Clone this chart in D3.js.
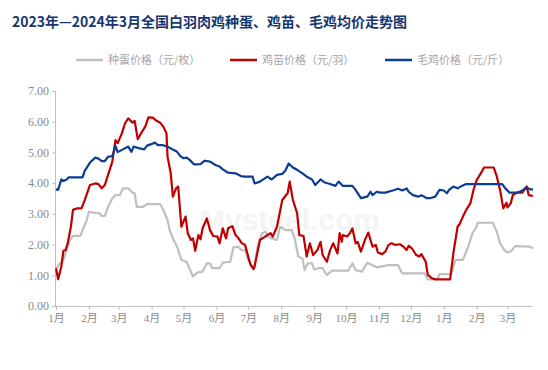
<!DOCTYPE html>
<html>
<head>
<meta charset="utf-8">
<script src="https://cdn.jsdelivr.net/npm/d3@7"></script>
<style>
  body { margin: 0; background: #fff; }
  svg { display: block; }
</style>
</head>
<body>
<div id="chart"></div>
<script>
//Chart data
var titleText = "2023年—2024年3月全国白羽肉鸡种蛋、鸡苗、毛鸡均价走势图";
var seriesNames = ["种蛋价格（元/枚）", "鸡苗价格（元/羽）", "毛鸡价格（元/斤）"];
var seriesColors = ["#bfbfbf", "#c00000", "#0b3d91"];
var yTicks = [0, 1, 2, 3, 4, 5, 6, 7];
var monthTicks = ["2023-01-01", "2023-02-01", "2023-03-01", "2023-04-01", "2023-05-01", "2023-06-01",
    "2023-07-01", "2023-08-01", "2023-09-01", "2023-10-01", "2023-11-01", "2023-12-01",
    "2024-01-01", "2024-02-01", "2024-03-01"];
var monthLabels = ["1月", "2月", "3月", "4月", "5月", "6月", "7月", "8月", "9月", "10月", "11月", "12月", "1月", "2月", "3月"];

//种蛋
var eggPrice = [
    ["2023-01-01", 1.2], ["2023-01-04", 1.35], ["2023-01-08", 1.5], ["2023-01-11", 1.82], ["2023-01-14", 2.15],
    ["2023-01-17", 2.28], ["2023-01-24", 2.28], ["2023-01-26", 2.47], ["2023-01-30", 2.8], ["2023-02-01", 3.07],
    ["2023-02-05", 3.04], ["2023-02-11", 3.02], ["2023-02-13", 2.93], ["2023-02-16", 2.93], ["2023-02-19", 3.23],
    ["2023-02-23", 3.51], ["2023-02-26", 3.61], ["2023-03-02", 3.61], ["2023-03-05", 3.83], ["2023-03-10", 3.83],
    ["2023-03-14", 3.69], ["2023-03-16", 3.67], ["2023-03-18", 3.23], ["2023-03-24", 3.23], ["2023-03-28", 3.32],
    ["2023-04-09", 3.32], ["2023-04-12", 3.13], ["2023-04-16", 2.8], ["2023-04-18", 2.47], ["2023-04-21", 2.2],
    ["2023-04-25", 1.93], ["2023-04-29", 1.5], ["2023-05-04", 1.44], ["2023-05-07", 1.19], ["2023-05-10", 0.96],
    ["2023-05-14", 1.09], ["2023-05-19", 1.12], ["2023-05-23", 1.39], ["2023-05-26", 1.39], ["2023-05-28", 1.23],
    ["2023-06-04", 1.23], ["2023-06-07", 1.41], ["2023-06-14", 1.44], ["2023-06-17", 1.91], ["2023-06-21", 1.93],
    ["2023-06-25", 1.82], ["2023-06-28", 1.82], ["2023-07-01", 1.5], ["2023-07-05", 1.28], ["2023-07-07", 1.33],
    ["2023-07-10", 1.99], ["2023-07-14", 2.37], ["2023-07-17", 2.42], ["2023-07-20", 2.26], ["2023-07-23", 2.2],
    ["2023-07-28", 2.15], ["2023-07-31", 2.58], ["2023-08-05", 2.47], ["2023-08-11", 2.47], ["2023-08-14", 2.15],
    ["2023-08-17", 1.61], ["2023-08-21", 1.55], ["2023-08-23", 1.17], ["2023-08-26", 1.39], ["2023-08-30", 1.39],
    ["2023-09-01", 1.19], ["2023-09-05", 1.23], ["2023-09-09", 1.23], ["2023-09-13", 1.01], ["2023-09-18", 1.15],
    ["2023-10-03", 1.15], ["2023-10-07", 1.39], ["2023-10-10", 1.17], ["2023-10-16", 1.12], ["2023-10-21", 1.41],
    ["2023-10-26", 1.33], ["2023-10-30", 1.26], ["2023-11-10", 1.33], ["2023-11-19", 1.33], ["2023-11-23", 1.06],
    ["2023-12-14", 1.06], ["2023-12-17", 0.87], ["2023-12-26", 0.87], ["2023-12-28", 1.04], ["2024-01-08", 1.04],
    ["2024-01-12", 1.5], ["2024-01-19", 1.5], ["2024-01-24", 1.93], ["2024-01-28", 2.37], ["2024-01-31", 2.53],
    ["2024-02-02", 2.71], ["2024-02-16", 2.71], ["2024-02-20", 2.42], ["2024-02-23", 2.04], ["2024-02-27", 1.82],
    ["2024-03-01", 1.74], ["2024-03-05", 1.8], ["2024-03-08", 1.95], ["2024-03-22", 1.93], ["2024-03-25", 1.88]
];

//鸡苗
var chickPrice = [
    ["2023-01-01", 1.23], ["2023-01-03", 0.87], ["2023-01-06", 1.28], ["2023-01-08", 1.8], ["2023-01-10", 1.82],
    ["2023-01-12", 2.04], ["2023-01-15", 2.58], ["2023-01-17", 3.13], ["2023-01-21", 3.18], ["2023-01-25", 3.18],
    ["2023-01-28", 3.45], ["2023-02-02", 3.94], ["2023-02-07", 3.99], ["2023-02-10", 3.97], ["2023-02-13", 3.83],
    ["2023-02-16", 3.94], ["2023-02-19", 4.27], ["2023-02-23", 4.7], ["2023-02-26", 5.4], ["2023-02-28", 5.3],
    ["2023-03-04", 5.62], ["2023-03-07", 5.95], ["2023-03-10", 6.11], ["2023-03-14", 5.97], ["2023-03-16", 6.03],
    ["2023-03-19", 5.43], ["2023-03-23", 5.68], ["2023-03-26", 5.84], ["2023-03-29", 6.14], ["2023-04-02", 6.13],
    ["2023-04-06", 6.02], ["2023-04-09", 5.97], ["2023-04-12", 5.84], ["2023-04-15", 5.62], ["2023-04-16", 4.86],
    ["2023-04-19", 4.32], ["2023-04-21", 3.56], ["2023-04-24", 3.83], ["2023-04-26", 3.89], ["2023-04-29", 2.58],
    ["2023-05-01", 2.75], ["2023-05-03", 2.91], ["2023-05-05", 2.37], ["2023-05-08", 2.15], ["2023-05-10", 2.2],
    ["2023-05-12", 1.8], ["2023-05-15", 2.31], ["2023-05-17", 2.17], ["2023-05-19", 2.53], ["2023-05-23", 2.85],
    ["2023-05-26", 2.47], ["2023-05-29", 2.28], ["2023-06-02", 2.26], ["2023-06-04", 2.04], ["2023-06-07", 2.53],
    ["2023-06-10", 2.2], ["2023-06-12", 2.53], ["2023-06-16", 2.6], ["2023-06-19", 2.31], ["2023-06-21", 2.24],
    ["2023-06-25", 2.04], ["2023-06-28", 1.99], ["2023-07-01", 1.6], ["2023-07-03", 1.35], ["2023-07-06", 1.2],
    ["2023-07-07", 1.3], ["2023-07-12", 2.15], ["2023-07-19", 2.31], ["2023-07-22", 2.37], ["2023-07-24", 2.26],
    ["2023-07-28", 2.58], ["2023-08-02", 3.45], ["2023-08-07", 3.67], ["2023-08-09", 4.05], ["2023-08-12", 3.45],
    ["2023-08-16", 3.02], ["2023-08-18", 2.31], ["2023-08-22", 2.28], ["2023-08-25", 1.61], ["2023-08-28", 2.04],
    ["2023-08-31", 1.66], ["2023-09-04", 1.82], ["2023-09-07", 2.09], ["2023-09-09", 1.66], ["2023-09-13", 1.44],
    ["2023-09-16", 1.82], ["2023-09-19", 2.04], ["2023-09-23", 1.71], ["2023-09-25", 2.37], ["2023-09-27", 2.09],
    ["2023-09-28", 2.31], ["2023-10-02", 2.26], ["2023-10-05", 2.39], ["2023-10-07", 2.53], ["2023-10-10", 2.04],
    ["2023-10-12", 2.09], ["2023-10-15", 1.77], ["2023-10-19", 2.17], ["2023-10-22", 2.39], ["2023-10-25", 2.04],
    ["2023-10-26", 1.93], ["2023-10-29", 1.99], ["2023-10-31", 1.74], ["2023-11-04", 1.69], ["2023-11-07", 1.77],
    ["2023-11-10", 1.99], ["2023-11-13", 2.04], ["2023-11-16", 1.99], ["2023-11-21", 2.01], ["2023-11-24", 1.93],
    ["2023-11-27", 1.82], ["2023-11-29", 1.96], ["2023-12-02", 1.88], ["2023-12-06", 1.66], ["2023-12-09", 1.61],
    ["2023-12-11", 1.69], ["2023-12-15", 1.44], ["2023-12-17", 1.01], ["2023-12-21", 0.9], ["2023-12-24", 0.87],
    ["2024-01-07", 0.87], ["2024-01-10", 1.71], ["2024-01-14", 2.58], ["2024-01-16", 2.67], ["2024-01-19", 2.91],
    ["2024-01-23", 3.18], ["2024-01-26", 3.34], ["2024-01-29", 3.78], ["2024-02-01", 4.1], ["2024-02-04", 4.27],
    ["2024-02-08", 4.51], ["2024-02-17", 4.51], ["2024-02-20", 4.21], ["2024-02-23", 3.78], ["2024-02-26", 3.18],
    ["2024-02-29", 3.36], ["2024-03-01", 3.21], ["2024-03-04", 3.34], ["2024-03-06", 3.61], ["2024-03-10", 3.69],
    ["2024-03-15", 3.69], ["2024-03-19", 3.89], ["2024-03-21", 3.61], ["2024-03-25", 3.58]
];

//毛鸡
var livePrice = [
    ["2023-01-01", 3.8], ["2023-01-03", 3.78], ["2023-01-06", 4.12], ["2023-01-08", 4.07], ["2023-01-11", 4.12],
    ["2023-01-13", 4.19], ["2023-01-26", 4.19], ["2023-01-28", 4.4], ["2023-02-02", 4.67], ["2023-02-07", 4.83],
    ["2023-02-10", 4.8], ["2023-02-13", 4.72], ["2023-02-16", 4.72], ["2023-02-19", 4.86], ["2023-02-23", 4.88],
    ["2023-02-26", 5.21], ["2023-02-28", 5.01], ["2023-03-05", 5.1], ["2023-03-10", 5.19], ["2023-03-13", 5.02],
    ["2023-03-15", 5.19], ["2023-03-21", 5.13], ["2023-03-25", 5.1], ["2023-03-28", 5.23], ["2023-04-01", 5.27],
    ["2023-04-04", 5.32], ["2023-04-07", 5.24], ["2023-04-11", 5.24], ["2023-04-16", 5.19], ["2023-04-20", 5.11],
    ["2023-04-25", 5.02], ["2023-04-28", 4.88], ["2023-05-01", 4.81], ["2023-05-04", 4.83], ["2023-05-07", 4.75],
    ["2023-05-11", 4.61], ["2023-05-17", 4.62], ["2023-05-21", 4.73], ["2023-05-26", 4.7], ["2023-05-31", 4.59],
    ["2023-06-04", 4.54], ["2023-06-07", 4.45], ["2023-06-12", 4.34], ["2023-06-19", 4.32], ["2023-06-24", 4.23],
    ["2023-06-28", 4.21], ["2023-07-05", 4.21], ["2023-07-07", 3.99], ["2023-07-12", 4.05], ["2023-07-19", 4.21],
    ["2023-07-23", 4.12], ["2023-07-28", 4.27], ["2023-08-02", 4.3], ["2023-08-05", 4.41], ["2023-08-08", 4.64],
    ["2023-08-12", 4.51], ["2023-08-17", 4.41], ["2023-08-21", 4.32], ["2023-08-25", 4.21], ["2023-08-30", 4.12],
    ["2023-09-02", 3.94], ["2023-09-07", 4.12], ["2023-09-11", 4.02], ["2023-09-16", 3.97], ["2023-09-21", 3.91],
    ["2023-09-24", 4.05], ["2023-09-25", 4.02], ["2023-09-28", 3.91], ["2023-10-07", 3.91], ["2023-10-10", 3.78],
    ["2023-10-15", 3.51], ["2023-10-21", 3.56], ["2023-10-24", 3.72], ["2023-10-26", 3.61], ["2023-10-30", 3.72],
    ["2023-11-02", 3.69], ["2023-11-07", 3.69], ["2023-11-14", 3.76], ["2023-11-19", 3.82], ["2023-11-23", 3.76],
    ["2023-11-27", 3.83], ["2023-11-29", 3.72], ["2023-12-03", 3.61], ["2023-12-08", 3.56], ["2023-12-11", 3.61],
    ["2023-12-16", 3.51], ["2023-12-19", 3.51], ["2023-12-24", 3.56], ["2023-12-28", 3.78], ["2024-01-01", 3.76],
    ["2024-01-04", 3.67], ["2024-01-06", 3.78], ["2024-01-10", 3.89], ["2024-01-14", 3.83], ["2024-01-18", 3.91],
    ["2024-01-22", 3.97], ["2024-02-25", 3.97], ["2024-02-28", 3.83], ["2024-03-03", 3.69], ["2024-03-10", 3.69],
    ["2024-03-15", 3.76], ["2024-03-19", 3.86], ["2024-03-22", 3.8], ["2024-03-25", 3.8]
];

var allSeries = [eggPrice, chickPrice, livePrice];

//Size
var width = 548;
var height = 370;
var margin = { top: 91, right: 15, bottom: 64, left: 56 };

var parseDate = d3.timeParse("%Y-%m-%d");

var svg = d3.select("#chart")
    .append("svg")
    .attr("width", width)
    .attr("height", height);

//Scales
var xScale = d3.scaleTime()
    .domain([parseDate("2023-01-01"), parseDate("2024-03-25")])
    .range([margin.left, width - margin.right]);

var yScale = d3.scaleLinear()
    .domain([0, 7])
    .range([height - margin.bottom, margin.top]);

//Title
svg.append("text")
    .attr("x", 12)
    .attr("y", 27)
    .attr("fill", "#17366e")
    .attr("font-family", "'Noto Sans CJK SC', sans-serif")
    .attr("font-weight", "bold")
    .attr("font-size", 14)
    .text(titleText);

//Legend
var legendX = [76, 230, 385];
var legend = svg.append("g")
    .selectAll("g")
    .data(seriesNames)
    .join("g")
    .attr("transform", (d, i) => `translate(${legendX[i]},60)`);

legend.append("line")
    .attr("x1", 0)
    .attr("x2", 27)
    .attr("stroke", (d, i) => seriesColors[i])
    .attr("stroke-width", 2.5);

legend.append("text")
    .attr("x", 32)
    .attr("y", 4)
    .attr("fill", "#a6a6a6")
    .attr("font-family", "'Noto Sans CJK SC', sans-serif")
    .attr("font-size", 11)
    .text(d => d);

//Watermark
svg.append("text")
    .attr("x", 290)
    .attr("y", 230)
    .attr("text-anchor", "middle")
    .attr("fill", "#f4f4f4")
    .attr("font-family", "Arial, sans-serif")
    .attr("font-weight", "bold")
    .attr("font-size", 30)
    .text("Mysteel.com");

//Y axis
var gY = svg.append("g")
    .attr("transform", `translate(${margin.left},0)`)
    .call(d3.axisLeft(yScale).tickValues(yTicks).tickFormat(d3.format(".2f")).tickSize(4).tickPadding(3))
    .call(g => g.select(".domain").attr("stroke", "#bfbfbf").attr("d", `M-0.5,${yScale(7)}V${yScale(0)}`))
    .call(g => g.selectAll(".tick line").attr("stroke", "#bfbfbf"))
    .call(g => g.selectAll(".tick text")
        .attr("fill", "#8a8a8a")
        .attr("font-family", "'Liberation Serif', serif")
        .attr("font-size", 12));

//X axis
var gX = svg.append("g")
    .attr("transform", `translate(0,${height - margin.bottom})`)
    .call(d3.axisBottom(xScale)
        .tickValues(monthTicks.map(parseDate))
        .tickFormat((d, i) => monthLabels[i])
        .tickSize(4)
        .tickPadding(4))
    .call(g => g.select(".domain").attr("stroke", "#bfbfbf").attr("d", `M${margin.left},0.5H${width - margin.right}`))
    .call(g => g.selectAll(".tick line").attr("stroke", "#bfbfbf"))
    .call(g => g.selectAll(".tick text")
        .attr("fill", "#8a8a8a")
        .attr("font-family", "'Liberation Serif', 'Noto Sans CJK SC', serif")
        .attr("font-size", 11));

//Lines
var line = d3.line()
    .x(d => xScale(parseDate(d[0])))
    .y(d => yScale(d[1]));

svg.append("g")
    .selectAll("path")
    .data(allSeries)
    .join("path")
    .attr("fill", "none")
    .attr("stroke", (d, i) => seriesColors[i])
    .attr("stroke-width", 2.2)
    .attr("stroke-linejoin", "round")
    .attr("d", line);
</script>
</body>
</html>
